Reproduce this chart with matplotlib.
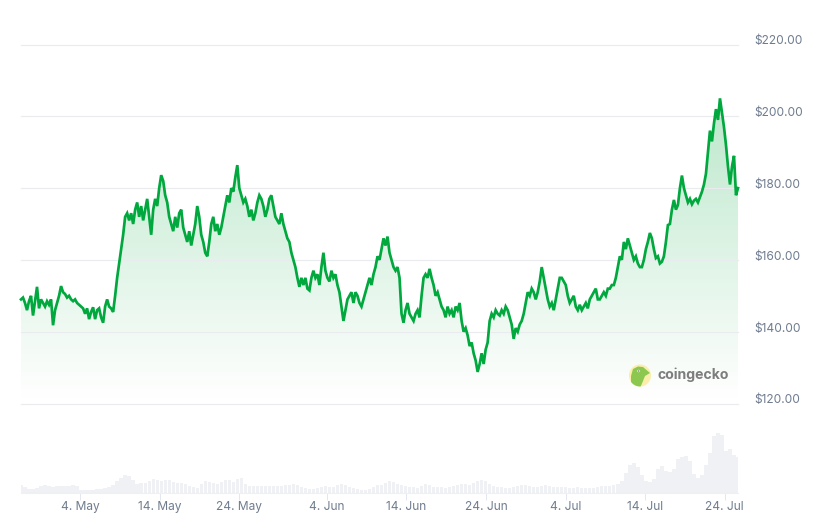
import numpy as np
import pandas as pd
import matplotlib
matplotlib.use('Agg')
import matplotlib.pyplot as plt
from matplotlib.patches import Circle, Polygon

# price every ~6 hours
prices = [
    149, 149.5, 148, 146, 148.5, 150, 144.5, 148.5, 152.5, 146.5, 149, 148, 147, 148.5, 147.5,
    149, 141.8, 146, 148, 150, 152.7, 151, 150.5, 149.5, 150, 149, 148.5, 149, 148, 147.5,
    147, 146.5, 145, 146.5, 143.5, 145.5, 146.8, 143.5, 146, 146.5, 144, 142.5, 147, 149, 147,
    146.5, 145.5, 150, 155, 159, 163, 167, 172, 173, 171, 173, 170, 174, 176, 172,
    175, 171, 174, 177, 172, 167, 174, 177, 175, 180,
    183.6, 182, 178, 176, 172, 170, 168, 172, 169, 173, 174, 169, 167, 165, 168, 164, 167, 170, 175, 172,
    167, 165, 162, 161, 165, 170, 172, 168, 170, 167, 169, 172, 175, 178, 176, 180, 179, 183, 186.4, 180,
    178, 176, 177, 175, 172, 174, 171, 173, 176, 178, 177, 175, 172, 174, 177, 178, 175, 172, 171, 170,
    173, 170, 168, 166, 165, 162, 160, 158, 155, 152.5, 155, 153, 155, 152, 151.5, 155, 157, 155, 156, 153,
    158, 162, 157, 155, 154, 157, 155, 156, 153, 151, 147, 143, 146, 149, 150, 151, 148, 151, 150, 148,
    147, 149, 151, 153, 155, 153, 156, 158, 161, 160, 163, 166, 164, 166.5, 162, 160, 158, 157, 158, 155,
    145, 142.5, 146, 148, 145, 144, 143, 145, 146, 144, 150, 155, 156, 155, 157.5, 155, 153, 150, 151, 149,
    147, 146, 144, 147, 145, 146, 144, 147, 146, 148, 143, 140, 141, 139, 136, 137, 134, 132, 128.8, 131,
    134, 131, 135, 137, 143, 145, 144, 146, 145, 144.5, 146, 145, 147, 146, 144, 142, 138, 141, 140, 142,
    143, 145, 148, 151, 150, 152, 151, 149, 151, 154, 158, 155, 152, 149, 147, 148, 146, 149, 152, 155,
    155, 154, 153, 150, 148, 149, 150, 147, 146, 147.5, 146, 147, 148, 146.5, 149, 150, 151, 152, 149, 149,
    150, 151, 150, 152, 152, 153, 153, 155, 158, 161, 160, 165, 163, 166, 164, 162, 160, 161, 159, 158,
    158, 160, 163, 165, 167.5, 166, 163, 160.5, 161, 159, 159.5, 161, 165, 169.7, 170, 174, 176.7, 174, 175.3, 180,
    183.5, 180, 178, 176, 177, 175.5, 176.5, 177, 176, 177.5, 179, 181, 184, 190, 196, 193, 198, 202, 199, 205,
    201, 197, 192, 186, 181, 186, 189, 178, 180,
]

# volume in billions, every ~12 hours
volumes = [
    1.6, 1.2, .8, .8, 1, 1.4, 1.6, 1.4, 1.2, 1.4, 1.4, 1.4, 1.4, 1.6, 1.4,
    .6, .6, .6, .7, .8, .8, 1, 1.2, 1.6, 2.4,
    3, 3.6, 3.4, 2.6, 1.8, 2, 2, 2.4, 2.8, 2.6,
    2.4, 2.6, 2.6, 2.2, 2, 2, 1.8, 1.4, 1.2, 1,
    1.8, 2.4, 2.2, 2, 1.8, 2.2, 2.6, 2.6, 2.2, 2.8,
    3, 1.8, 1.4, 1.4, 1.4, 1.4, 1.4, 1.4, 1.4, 1.4,
    1.4, 1.6, 1.6, 1.8, 1.6, 1.2, 1, .8, .8, 1,
    1.2, 1.4, 1.2, 1.2, 1.6, 1.8, 1.6, 1.2, 1, .8,
    .6, .6, .8, 1.2, 1.6, 1.6, 2, 2.4, 2.2, 1.8,
    1.6, 1.4, 1.2, 1.2, 1, 1.4, 1.8, 1.6, 1.2, 1.2,
    1.2, 1, 1.2, 1.4, 1.6, 1.8, 1.8, 1.6, 2, 2.4,
    2.6, 2.4, 1.8, 1.4, 1.2, 1.2, 1, 1, 1.2, 1.4,
    1.6, 1.6, 1.4, 1.2, 1.2, 1.4, 1.6, 1.4, 1.2, 1.2,
    1.2, 1.2, 1, 1, 1.2, 1, 1, 1, 1, 1.2,
    1.4, 1.4, 1.4, 1.6, 1.8, 2.4, 4, 5.6, 6, 5.2,
    3.6, 2.4, 2.2, 2.8, 4.8, 5.4, 4.4, 4.2, 4.8, 6.8,
    7.2, 7.4, 6.5, 3.8, 3, 3.6, 5.6, 8, 11.4, 12,
    11.6, 8.4, 8.8, 7.6, 7.2,
]

start_date = '2025-04-26 14:10'
end_date = '2025-07-25 15:50'
tick_dates = ['2025-05-04', '2025-05-14', '2025-05-24', '2025-06-04', '2025-06-14',
              '2025-06-24', '2025-07-04', '2025-07-14', '2025-07-24']
tick_labels = ['4. May', '14. May', '24. May', '4. Jun', '14. Jun',
               '24. Jun', '4. Jul', '14. Jul', '24. Jul']
price_ticks = [120, 140, 160, 180, 200, 220]

plt.rcParams['font.family'] = ['Inter', 'DejaVu Sans']
GREEN = '#00a83e'
TEXT = '#6f7c8f'
W, H = 820, 524

price_dates = pd.date_range(start_date, end_date, periods=len(prices))
vol_dates = pd.date_range(start_date, end_date, periods=len(volumes))
x_price = matplotlib.dates.date2num(price_dates)
x_vol = matplotlib.dates.date2num(vol_dates)
xlim = (x_price[0], x_price[-1])

fig = plt.figure(figsize=(W / 100, H / 100), dpi=100)
ax = fig.add_axes([21 / W, 1 - 403.5 / H, 717 / W, 359 / H])
ax_vol = fig.add_axes([21 / W, 1 - 493 / H, 717 / W, 61 / H])

# gradient under the line
fill = ax.fill_between(x_price, prices, 120, color='none', lw=0)
grad = np.zeros((256, 2, 4))
grad[:, :, 0] = 0.0
grad[:, :, 1] = 0.66
grad[:, :, 2] = 0.24
grad[:, :, 3] = np.linspace(0.27, 0.0, 256)[:, None]
img = ax.imshow(grad, extent=(xlim[0], xlim[1], 120, 205), origin='upper',
                aspect='auto', zorder=1)
img.set_clip_path(fill.get_paths()[0], ax.transData)

ax.plot(x_price, prices, color=GREEN, lw=1.95, zorder=3, solid_joinstyle='miter', clip_on=False)

ax.set_xlim(xlim)
ax.set_ylim(120, 220)
ax.set_yticks(price_ticks)
ax.set_xticks([])
ax.tick_params(axis='y', length=0, labelleft=False)
for p in price_ticks:
    ax.axhline(p, color='#e9ebee', lw=0.8, zorder=2, clip_on=False)
for side in ax.spines:
    ax.spines[side].set_visible(False)

for p in price_ticks:
    ax.annotate('$%.2f' % p, (1, p), xycoords=('axes fraction', 'data'),
                xytext=(16 * 0.72, 2.3), textcoords='offset points',
                ha='left', va='center', fontsize=8.6, color=TEXT)

# volume
ax_vol.bar(x_vol, volumes, width=0.42, color='#eff1f4', linewidth=0)
ax_vol.set_xlim(xlim)
ax_vol.set_ylim(0, 12.2)
ax_vol.set_yticks([])
ax_vol.set_xticks(matplotlib.dates.date2num(pd.to_datetime(tick_dates)))
ax_vol.set_xticklabels(tick_labels, fontsize=8.6, color=TEXT)
ax_vol.tick_params(axis='x', length=5, width=0.7, color='#e3e8f0', pad=1)
for label in ax_vol.get_xticklabels():
    label.set_x(label.get_position()[0])
for side in ax_vol.spines:
    ax_vol.spines[side].set_visible(False)
ax_vol.spines['bottom'].set_visible(True)
ax_vol.spines['bottom'].set_color('#eef0f3')
ax_vol.spines['bottom'].set_linewidth(0.8)
ax_vol.patch.set_alpha(0)

# coingecko logo, drawn in pixel coordinates on top
over = fig.add_axes([0, 0, 1, 1])
over.set_xlim(0, W)
over.set_ylim(H, 0)
over.axis('off')
badge = Circle((640, 375.5), 11, color='#fbeeaa', lw=0)
over.add_patch(badge)
gecko = Polygon([(631, 388), (631, 376), (633, 369), (638, 366.5), (643, 367),
                 (650, 373), (645, 376), (643, 381), (640, 388)],
                closed=True, color='#8cc850', lw=0)
over.add_patch(gecko)
gecko.set_clip_path(badge)
over.add_patch(Circle((638.5, 371), 1.2, color='#ffffff', lw=0))
over.add_patch(Circle((638.5, 371), 0.6, color='#4a4a4a', lw=0))
over.text(658, 375, 'coingecko', fontsize=10.15, fontweight='bold', color='#7d7d7d',
          ha='left', va='center')

fig.savefig('out.png', dpi=100, facecolor='white')
